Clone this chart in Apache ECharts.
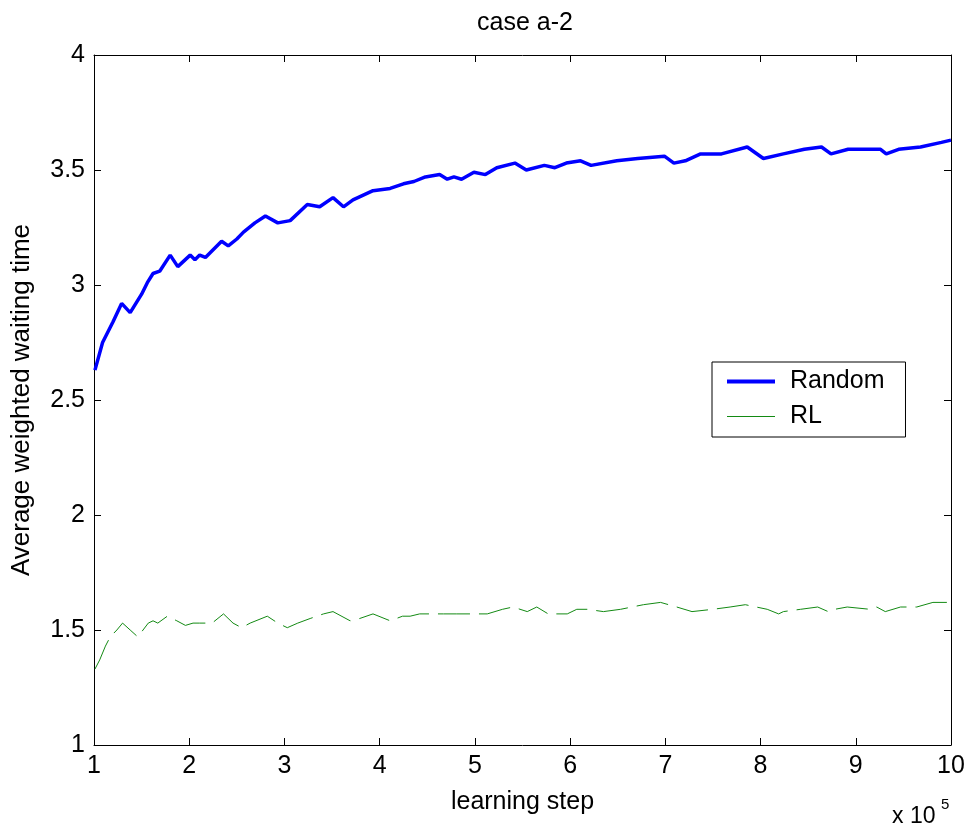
<!DOCTYPE html>
<html>
<head>
<meta charset="utf-8">
<script src="https://cdn.jsdelivr.net/npm/echarts@6/dist/echarts.min.js"></script>
<style>
html, body { margin: 0; padding: 0; background: #fff; }
#chart { width: 970px; height: 830px; }
</style>
</head>
<body>
<div id="chart"></div>
<script>
// learning step in units of 1e5
var randomX = [1.01, 1.09, 1.20, 1.29, 1.38, 1.50, 1.56, 1.62, 1.69, 1.80, 1.88, 2.01, 2.06, 2.11, 2.17, 2.34, 2.41, 2.50, 2.57, 2.69, 2.80, 2.93, 3.06, 3.24, 3.37, 3.51, 3.62, 3.72, 3.93, 4.11, 4.25,
	4.36, 4.48, 4.63, 4.71, 4.78, 4.86, 4.99, 5.11, 5.23, 5.42, 5.54, 5.73, 5.84, 5.96, 6.11, 6.22, 6.49, 6.71, 6.99, 7.09, 7.21, 7.37, 7.59, 7.86, 8.03, 8.24, 8.46, 8.64, 8.74, 8.92, 9.14, 9.26, 9.32, 9.45, 9.68, 9.90, 10.0];
var randomY = [2.63, 2.75, 2.84, 2.92, 2.88, 2.96, 3.01, 3.05, 3.06, 3.13, 3.08, 3.13, 3.11, 3.13, 3.12, 3.19, 3.17, 3.20, 3.23, 3.27, 3.30, 3.27, 3.28, 3.35, 3.34, 3.38, 3.34, 3.37, 3.41, 3.42, 3.44,
	3.45, 3.47, 3.48, 3.46, 3.47, 3.46, 3.49, 3.48, 3.51, 3.53, 3.50, 3.52, 3.51, 3.53, 3.54, 3.52, 3.54, 3.55, 3.56, 3.53, 3.54, 3.57, 3.57, 3.60, 3.55, 3.57, 3.59, 3.60, 3.57, 3.59, 3.59, 3.59, 3.57, 3.59, 3.60, 3.62, 3.63];

var rlX = [1.01, 1.06, 1.12, 1.17, 1.24, 1.30, 1.38, 1.46, 1.57, 1.62, 1.67, 1.77, 1.87, 1.96, 2.04, 2.11, 2.24, 2.36, 2.46, 2.55, 2.64, 2.82, 2.93, 3.03, 3.14, 3.27, 3.41, 3.51, 3.69, 3.79, 3.93, 4.11, 4.24, 4.32, 4.42, 4.56, 4.67, 4.81, 4.98, 5.13, 5.29, 5.40, 5.55, 5.65,
	5.77, 5.97, 6.07, 6.18, 6.35, 6.53, 6.65, 6.77, 6.95, 7.12, 7.28, 7.50, 7.68, 7.84, 8.07, 8.19, 8.24, 8.42, 8.60, 8.71, 8.78, 8.91, 9.15, 9.22, 9.31, 9.47, 9.64, 9.81, 9.99];
var rlY = [1.33, 1.37, 1.43, 1.47, 1.50, 1.53, 1.50, 1.47, 1.53, 1.54, 1.53, 1.56, 1.54, 1.52, 1.53, 1.53, 1.53, 1.57, 1.53, 1.51, 1.53, 1.56, 1.53, 1.51, 1.53, 1.55, 1.57, 1.58, 1.54, 1.55, 1.57, 1.54, 1.56, 1.56, 1.57, 1.57, 1.57, 1.57, 1.57, 1.57, 1.59, 1.60, 1.58, 1.60,
	1.57, 1.57, 1.59, 1.59, 1.58, 1.59, 1.60, 1.61, 1.62, 1.60, 1.58, 1.59, 1.60, 1.61, 1.59, 1.57, 1.58, 1.59, 1.60, 1.58, 1.59, 1.60, 1.59, 1.60, 1.58, 1.60, 1.60, 1.62, 1.62];

var xTicks = [1, 2, 3, 4, 5, 6, 7, 8, 9, 10];
var yTicks = [1, 1.5, 2, 2.5, 3, 3.5, 4];

function pairs(xs, ys) {
	var out = [];
	for (var i = 0; i < xs.length; i++) {
		out.push([xs[i], ys[i]]);
	}
	return out;
}

var font = 'Liberation Sans, Arial, sans-serif';
var chart = echarts.init(document.getElementById('chart'));

// top / right copies of the axes, for the closed box with inner ticks
function frameAxis(pos, isX) {
	return {
		type: 'value',
		position: pos,
		min: isX ? xTicks[0] : yTicks[0],
		max: isX ? xTicks[xTicks.length - 1] : yTicks[yTicks.length - 1],
		interval: isX ? 1 : 0.5,
		axisLine: { show: true, onZero: false, lineStyle: { color: '#000', width: 1 } },
		axisTick: { show: true, inside: true, length: 7, lineStyle: { color: '#000' } },
		axisLabel: { show: false },
		splitLine: { show: false }
	};
}

var option = {
	animation: false,
	backgroundColor: '#fff',
	textStyle: { fontFamily: font },
	title: {
		text: 'case a-2',
		left: 520,
		top: 6,
		textAlign: 'center',
		textStyle: { fontSize: 25, fontWeight: 'normal', color: '#000', fontFamily: font }
	},
	grid: { left: 94, top: 55, right: 19, bottom: 85 },
	legend: {
		orient: 'vertical',
		left: 712,
		top: 362,
		padding: [7, 21, 8, 13],
		itemGap: 10,
		itemWidth: 48,
		itemHeight: 14,
		backgroundColor: '#fff',
		borderColor: '#000',
		borderWidth: 1,
		borderRadius: 0,
		textStyle: { fontSize: 25, color: '#000', fontFamily: font, padding: [0, 0, 0, 10] },
		data: [
			{ name: 'Random', itemStyle: { opacity: 0 }, lineStyle: { width: 4 } },
			{ name: 'RL', itemStyle: { opacity: 0 }, lineStyle: { type: 'solid', width: 1 } }
		]
	},
	xAxis: [
		{
			type: 'value',
			position: 'bottom',
			min: 1,
			max: 10,
			interval: 1,
			name: 'learning step',
			nameLocation: 'middle',
			nameGap: 45,
			nameTextStyle: { fontSize: 25, color: '#000', fontFamily: font },
			axisLine: { show: true, onZero: false, lineStyle: { color: '#000', width: 1 } },
			axisTick: { show: true, inside: true, length: 7, lineStyle: { color: '#000' } },
			axisLabel: { fontSize: 25, color: '#000', margin: 9, fontFamily: font },
			splitLine: { show: false }
		},
		frameAxis('top', true)
	],
	yAxis: [
		{
			type: 'value',
			position: 'left',
			min: 1,
			max: 4,
			interval: 0.5,
			name: 'Average weighted waiting time',
			nameLocation: 'middle',
			nameGap: 59,
			nameTextStyle: { fontSize: 26, color: '#000', fontFamily: font },
			axisLine: { show: true, onZero: false, lineStyle: { color: '#000', width: 1 } },
			axisTick: { show: true, inside: true, length: 7, lineStyle: { color: '#000' } },
			axisLabel: { fontSize: 25, color: '#000', margin: 9, fontFamily: font },
			splitLine: { show: false }
		},
		frameAxis('right', false)
	],
	graphic: [
		{
			type: 'text',
			left: 892,
			top: 805,
			style: { text: 'x 10', fontSize: 23, fontFamily: font, fill: '#000' }
		},
		{
			type: 'text',
			left: 941,
			top: 797,
			style: { text: '5', fontSize: 15, fontFamily: font, fill: '#000' }
		}
	],
	series: [
		{
			name: 'Random',
			type: 'line',
			data: pairs(randomX, randomY),
			symbol: 'none',
			color: '#0000ff',
			lineStyle: { color: '#0000ff', width: 3.5 },
			z: 3
		},
		{
			name: 'RL',
			type: 'line',
			data: pairs(rlX, rlY),
			symbol: 'none',
			color: '#138a13',
			lineStyle: { color: '#138a13', width: 1, type: [32, 9] },
			z: 2
		}
	]
};

chart.setOption(option);
</script>
</body>
</html>
